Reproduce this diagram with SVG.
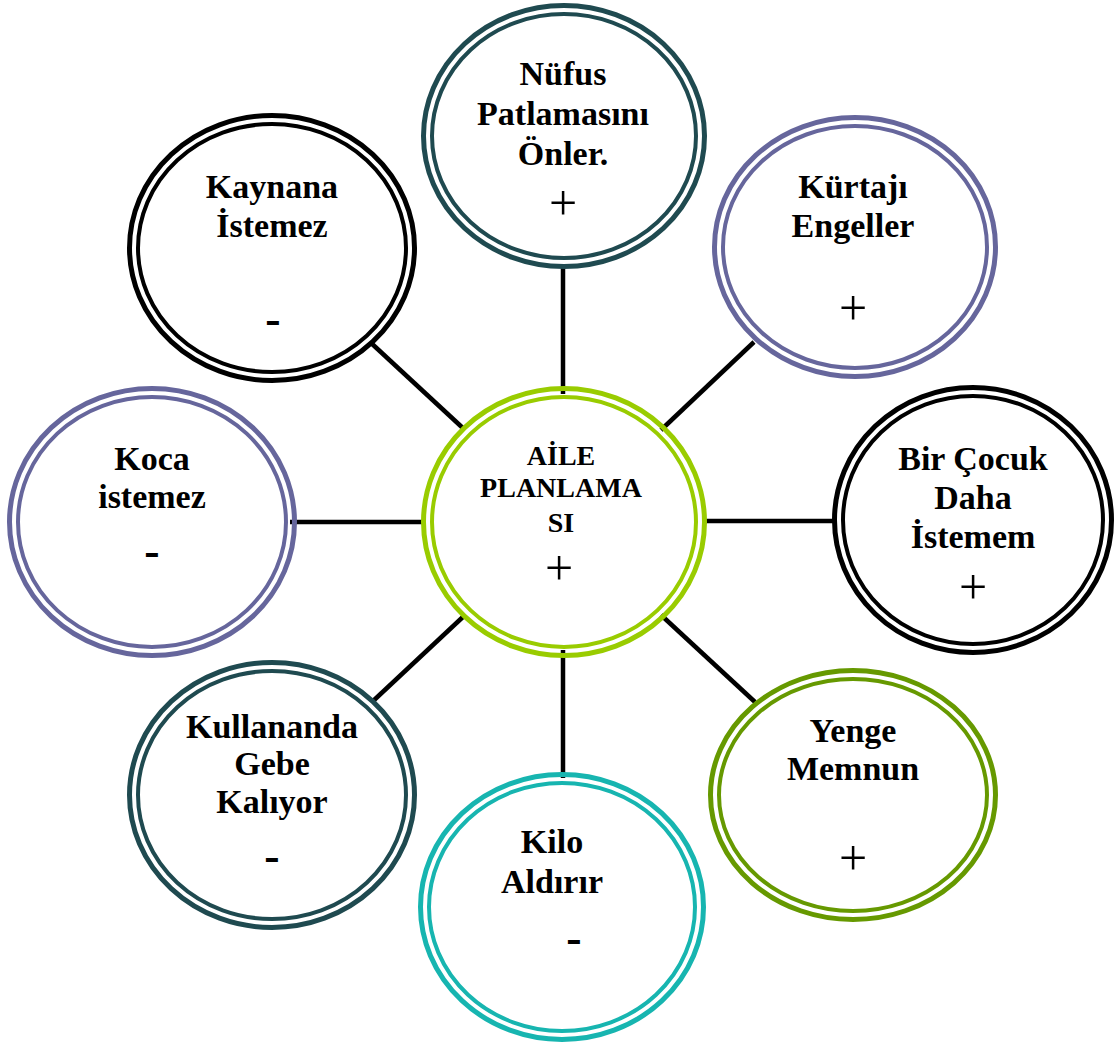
<svg xmlns="http://www.w3.org/2000/svg" width="1115" height="1046" viewBox="0 0 1115 1046">
<style>
.o{fill:none;stroke-width:5}
.i{fill:none;stroke-width:4}
.teal{stroke:#1f4a50}.purple{stroke:#66669c}.black{stroke:#000}.lime{stroke:#99cc00}.olive{stroke:#669900}.cyan{stroke:#17b5b0}
.t{font-family:"Liberation Serif","Times New Roman",serif;font-weight:bold;font-size:34px;text-anchor:middle;fill:#000}
.c{font-size:28px}
.p{font-family:"Liberation Serif","Times New Roman",serif;font-size:50px;text-anchor:middle;fill:#000}
.m{font-family:"Liberation Serif","Times New Roman",serif;font-weight:bold;font-size:46px;text-anchor:middle;fill:#000}
.ln{stroke:#000;stroke-width:4.5;fill:none}
</style>
<rect width="1115" height="1046" fill="#fff"/>
<g id="connectors">
<line class="ln" x1="563" y1="265" x2="563" y2="394"/>
<line class="ln" x1="563" y1="650" x2="563" y2="778"/>
<line class="ln" x1="290" y1="522" x2="426" y2="522"/>
<line class="ln" x1="704" y1="521" x2="834" y2="521"/>
<line class="ln" x1="370" y1="342" x2="465" y2="430"/>
<line class="ln" x1="754" y1="342" x2="661" y2="430"/>
<line class="ln" x1="372" y1="702" x2="465" y2="615"/>
<line class="ln" x1="755" y1="702" x2="661" y2="615"/>
</g>
<g id="node-center">
<ellipse class="o lime" cx="564" cy="522" rx="140.5" ry="133.5"/>
<ellipse class="i lime" cx="564" cy="522" rx="132" ry="125"/>
<text class="t c" x="561" y="465">AİLE</text>
<text class="t c" x="561" y="497">PLANLAMA</text>
<text class="t c" x="561" y="532">SI</text>
<text class="p" x="559" y="585">+</text>
</g>
<g id="node-nufus">
<ellipse class="o teal" cx="564" cy="136" rx="140.5" ry="130.5"/>
<ellipse class="i teal" cx="564" cy="136" rx="132" ry="122"/>
<text class="t" x="563" y="85">Nüfus</text>
<text class="t" x="563" y="125">Patlamasını</text>
<text class="t" x="563" y="165">Önler.</text>
<text class="p" x="563" y="220">+</text>
</g>
<g id="node-kurtaj">
<ellipse class="o purple" cx="855" cy="247" rx="140.5" ry="129.5"/>
<ellipse class="i purple" cx="855" cy="247" rx="132" ry="121"/>
<text class="t" x="853" y="198">Kürtajı</text>
<text class="t" x="853" y="237">Engeller</text>
<text class="p" x="853" y="325">+</text>
</g>
<g id="node-bircocuk">
<ellipse class="o black" cx="973" cy="520" rx="138.5" ry="132.5"/>
<ellipse class="i black" cx="973" cy="520" rx="130" ry="124"/>
<text class="t" x="973" y="470">Bir Çocuk</text>
<text class="t" x="973" y="509">Daha</text>
<text class="t" x="973" y="548">İstemem</text>
<text class="p" x="973" y="604">+</text>
</g>
<g id="node-yenge">
<ellipse class="o olive" cx="853" cy="795" rx="142.5" ry="124.5"/>
<ellipse class="i olive" cx="853" cy="795" rx="134" ry="116"/>
<text class="t" x="853" y="742">Yenge</text>
<text class="t" x="853" y="780">Memnun</text>
<text class="p" x="853" y="875">+</text>
</g>
<g id="node-kilo">
<ellipse class="o cyan" cx="562" cy="907" rx="141.5" ry="132.5"/>
<ellipse class="i cyan" cx="562" cy="907" rx="133" ry="124"/>
<text class="t" x="552" y="853">Kilo</text>
<text class="t" x="552" y="893">Aldırır</text>
<text class="m" x="574" y="953">-</text>
</g>
<g id="node-kullananda">
<ellipse class="o teal" cx="272" cy="795" rx="142.5" ry="132.5"/>
<ellipse class="i teal" cx="272" cy="795" rx="134" ry="124"/>
<text class="t" x="272" y="738">Kullananda</text>
<text class="t" x="272" y="775">Gebe</text>
<text class="t" x="272" y="813">Kalıyor</text>
<text class="m" x="272" y="871">-</text>
</g>
<g id="node-koca">
<ellipse class="o purple" cx="152" cy="522" rx="142.5" ry="133.5"/>
<ellipse class="i purple" cx="152" cy="522" rx="134" ry="125"/>
<text class="t" x="152" y="470">Koca</text>
<text class="t" x="152" y="508">istemez</text>
<text class="m" x="152" y="566">-</text>
</g>
<g id="node-kaynana">
<ellipse class="o black" cx="272" cy="248" rx="142.5" ry="132.5"/>
<ellipse class="i black" cx="272" cy="248" rx="134" ry="124"/>
<text class="t" x="272" y="198">Kaynana</text>
<text class="t" x="272" y="237">İstemez</text>
<text class="m" x="273" y="334">-</text>
</g>
</svg>
